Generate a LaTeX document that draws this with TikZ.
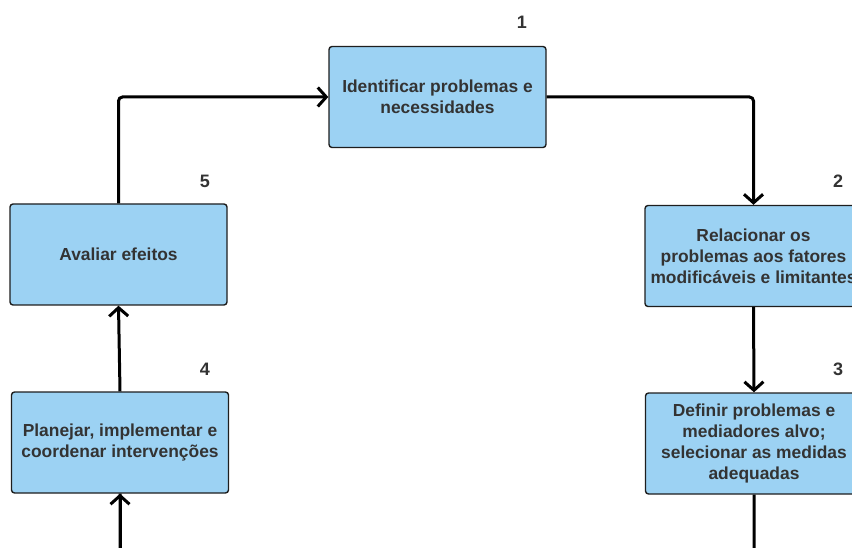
\documentclass[tikz,border=0pt]{standalone}
\usepackage{fontspec}
\setmainfont{Liberation Sans}
\usetikzlibrary{arrows.meta}
\definecolor{boxfill}{HTML}{9CD2F3}
\definecolor{boxline}{HTML}{1E1E1E}
\definecolor{txt}{HTML}{333333}
\tikzset{
  stepbox/.style={draw=boxline, line width=1.4pt, fill=boxfill, rounded corners=3pt,
    minimum width=217pt, minimum height=101pt, inner sep=0pt, align=center,
    text=txt, font=\fontsize{17.4}{21}\selectfont\bfseries},
  num/.style={text=txt, font=\fontsize{18}{20}\selectfont\bfseries},
  flow/.style={line width=3pt, black, rounded corners=4pt,
    -{Straight Barb[length=8.5pt,width=19pt,line width=3pt]}},
  plain/.style={line width=3pt, black, rounded corners=4pt}
}
\begin{document}
\begin{tikzpicture}[x=1pt,y=-1pt]
\useasboundingbox (0,0) rectangle (852,548);
\clip (0,0) rectangle (852,548);
\node[stepbox] (s1) at (437.5,97) {Identificar problemas e\\necessidades};
\node[stepbox] (s2) at (753.5,256) {Relacionar os\\problemas aos fatores\\modificáveis e limitantes};
\node[stepbox] (s3) at (754,443.5) {Definir problemas e\\mediadores alvo;\\selecionar as medidas\\adequadas};
\node[stepbox] (s4) at (120,442.5) {Planejar, implementar e\\coordenar intervenções};
\node[stepbox] (s5) at (118.5,254.5) {Avaliar efeitos};
\node[num] (n1) at (522,22) {1};
\node[num] (n2) at (838,181) {2};
\node[num] (n3) at (838,369) {3};
\node[num] (n4) at (205,369) {4};
\node[num] (n5) at (205,181) {5};
% cycle of steps
\draw[flow] (s5.north) |- (s1.west);
\draw[flow] (s1.east) -| (s2.north);
\draw[flow] (s2.south) -- (s3.north);
\draw[plain] (s3.south) -- ++(0,80) coordinate (c3) -| (s4.south);
\draw[flow] (c3 -| s4.south) -- (s4.south);
\draw[flow] (s4.north) -- (s5.south);
\end{tikzpicture}
\end{document}
